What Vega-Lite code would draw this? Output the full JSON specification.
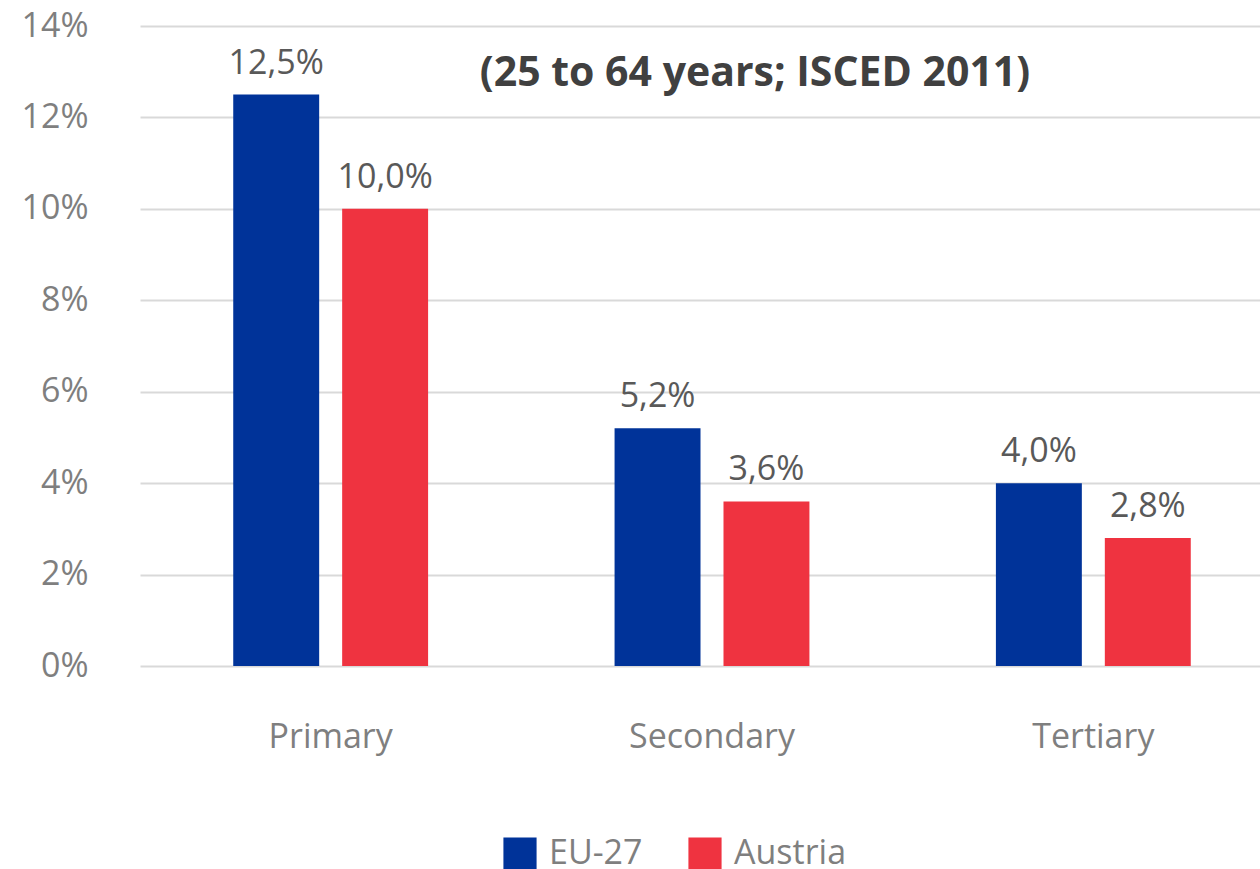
{
  "$schema": "https://vega.github.io/schema/vega-lite/v6.json",
  "autosize": "none",
  "width": 1144,
  "height": 640,
  "padding": {"left": 140, "top": 26, "right": 0, "bottom": 203},
  "background": "white",
  "title": {
    "text": "(25 to 64 years; ISCED 2011)",
    "font": "Open Sans",
    "fontSize": 41,
    "fontWeight": "bold",
    "color": "#404040",
    "anchor": "middle",
    "dx": 43,
    "offset": -86
  },
  "data": {
    "values": [
      {"level": "Primary", "country": "EU-27", "value": 0.125},
      {"level": "Primary", "country": "Austria", "value": 0.100},
      {"level": "Secondary", "country": "EU-27", "value": 0.052},
      {"level": "Secondary", "country": "Austria", "value": 0.036},
      {"level": "Tertiary", "country": "EU-27", "value": 0.040},
      {"level": "Tertiary", "country": "Austria", "value": 0.028}
    ]
  },
  "encoding": {
    "x": {
      "field": "level",
      "type": "nominal",
      "sort": ["Primary", "Secondary", "Tertiary"],
      "scale": {"paddingInner": 0.489, "paddingOuter": 0.2445},
      "axis": {
        "title": null,
        "labelAngle": 0,
        "domain": false,
        "ticks": false,
        "labelPadding": 54,
        "labelFontSize": 34,
        "labelFont": "Open Sans",
        "labelColor": "#7f7f7f"
      }
    },
    "xOffset": {
      "field": "country",
      "type": "nominal",
      "sort": ["EU-27", "Austria"],
      "scale": {"paddingInner": 0.211}
    },
    "y": {
      "field": "value",
      "type": "quantitative",
      "scale": {"domain": [0, 0.14]},
      "axis": {
        "title": null,
        "values": [0, 0.02, 0.04, 0.06, 0.08, 0.1, 0.12, 0.14],
        "format": ".0%",
        "domain": false,
        "ticks": false,
        "labelPadding": 52,
        "labelFontSize": 34,
        "labelFont": "Open Sans",
        "labelColor": "#7f7f7f",
        "gridColor": "#d9d9d9",
        "gridWidth": 2
      }
    }
  },
  "layer": [
    {
      "mark": {"type": "bar"},
      "encoding": {
        "color": {
          "field": "country",
          "type": "nominal",
          "sort": ["EU-27", "Austria"],
          "scale": {"domain": ["EU-27", "Austria"], "range": ["#003399", "#ef3340"]},
          "legend": {
            "title": null,
            "orient": "none",
            "direction": "horizontal",
            "legendX": 363,
            "legendY": 811,
            "symbolType": "square",
            "symbolSize": 1100,
            "symbolStrokeWidth": 0,
            "labelFontSize": 34,
            "labelFont": "Open Sans",
            "labelColor": "#7f7f7f",
            "columnPadding": 45,
            "labelOffset": 12
          }
        }
      }
    },
    {
      "mark": {"type": "text", "baseline": "bottom", "dy": -14, "fontSize": 34, "font": "Open Sans", "color": "#595959"},
      "encoding": {
        "text": {"field": "value", "type": "quantitative", "format": ".1%"}
      }
    }
  ],
  "config": {
    "view": {"stroke": null},
    "locale": {
      "number": {"decimal": ",", "thousands": ".", "grouping": [3], "currency": ["", " €"]}
    }
  }
}
